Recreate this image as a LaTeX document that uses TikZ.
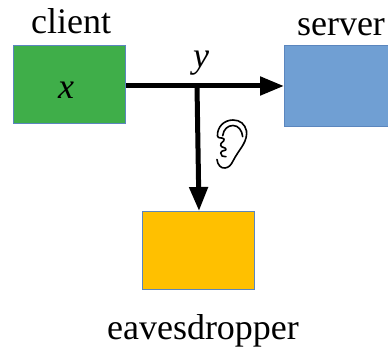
\documentclass[tikz,border=0pt]{standalone}
\usepackage{fontspec}
\setmainfont{Liberation Serif}
\usetikzlibrary{arrows.meta}
\definecolor{boxedge}{HTML}{5B86BE}
\definecolor{cgreen}{HTML}{3FAE49}
\definecolor{cblue}{HTML}{709FD3}
\definecolor{cyellow}{HTML}{FFC000}
\tikzset{
  party/.style={draw=boxedge,line width=1pt,minimum width=112pt,minimum height=78pt,inner sep=0pt,anchor=north west},
  lbl/.style={font=\fontsize{36}{40}\selectfont,inner sep=0pt},
  wire/.style={line width=5pt,-{Triangle[width=18pt,length=24pt]},shorten >=0pt},
  earline/.style={line width=1.6pt,line cap=round,line join=round}
}
\begin{document}
\begin{tikzpicture}[x=1pt,y=-1pt]
\useasboundingbox (0,0) rectangle (388,347);
\node[party,fill=cgreen] (client) at (13,45) {};
\node[party,fill=cblue,minimum height=81pt] (server) at (284,45) {};
\node[party,fill=cyellow] (eve) at (142,211) {};
\node[lbl,anchor=base] (clientlbl) at (71,34) {client};
\node[lbl,anchor=base] (serverlbl) at (341,36) {server};
\node[lbl,anchor=base] (evelbl) at (203,339) {eavesdropper};
\node[lbl,anchor=base] (xlbl) at (66,99) {\itshape x};
\node[lbl,anchor=base] (ylbl) at (201,68) {\itshape y};
\coordinate (jn) at (197,86);
\coordinate (srv) at (284,86);
\coordinate (evetop) at (199,211);
\draw[wire] (client.east |- jn) -- (srv);
\draw[wire] (jn) -- (evetop);
% ear outline with notch
\draw[earline] (217,159.5)
  .. controls (217.5,165) and (221,168.5) .. (225,168)
  .. controls (229,167.5) and (231,165) .. (233,161)
  .. controls (236,155) and (240,150) .. (243,145)
  .. controls (246,140) and (247,135) .. (246.5,131)
  .. controls (245,124) and (240,120) .. (233,120)
  .. controls (224,120) and (217,127) .. (217.5,136)
  .. controls (218,139) and (222,137) .. (224,139)
  .. controls (225,142) and (220,142) .. (220.7,145.5)
  .. controls (221.5,148) and (226,147) .. (226,149.5)
  .. controls (226,151) and (221,150) .. (220.7,153)
  .. controls (220.5,156) and (223,157) .. (226,156.7);
% helix
\draw[earline] (222.7,135.7)
  .. controls (223.5,129) and (228,125.5) .. (233,125.5)
  .. controls (238.5,125.5) and (242,130.5) .. (242.7,136.7);
\end{tikzpicture}
\end{document}
